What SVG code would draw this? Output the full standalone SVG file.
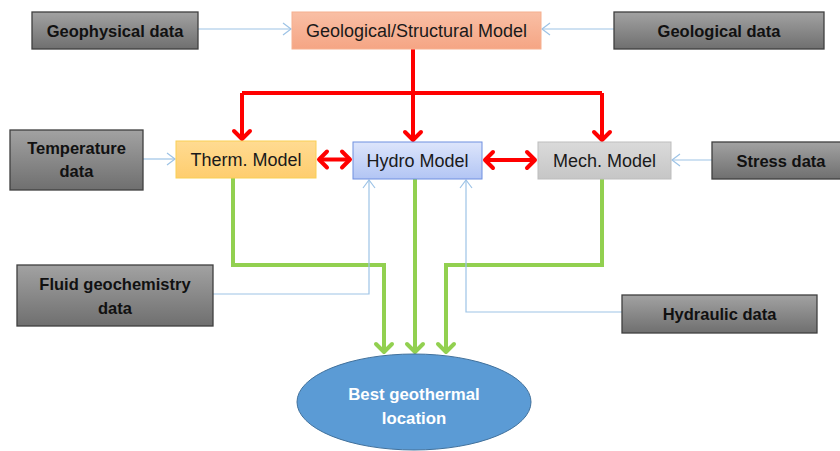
<svg xmlns="http://www.w3.org/2000/svg" width="840" height="451" viewBox="0 0 840 451">
<defs>
<linearGradient id="gGray" x1="0" y1="0" x2="0" y2="1"><stop offset="0" stop-color="#a2a2a2"/><stop offset="1" stop-color="#6f6f6f"/></linearGradient>
<linearGradient id="gGeo" x1="0" y1="0" x2="0" y2="1"><stop offset="0" stop-color="#f9bfa5"/><stop offset="1" stop-color="#f5a584"/></linearGradient>
<linearGradient id="gTherm" x1="0" y1="0" x2="0" y2="1"><stop offset="0" stop-color="#ffdb92"/><stop offset="1" stop-color="#fecd6e"/></linearGradient>
<linearGradient id="gHydro" x1="0" y1="0" x2="0" y2="1"><stop offset="0" stop-color="#dde5fb"/><stop offset="1" stop-color="#b2c5f4"/></linearGradient>
<linearGradient id="gMech" x1="0" y1="0" x2="0" y2="1"><stop offset="0" stop-color="#dadada"/><stop offset="1" stop-color="#c6c6c6"/></linearGradient>
<marker id="mRed" markerUnits="userSpaceOnUse" viewBox="-12 -10 16 20" refX="0" refY="0" markerWidth="16" markerHeight="20" orient="auto-start-reverse" overflow="visible">
<path d="M-8,-8 L0,0 L-8,8" fill="none" stroke="#ff0000" stroke-width="4" stroke-linecap="round" stroke-linejoin="round"/>
</marker>
<marker id="mGreen" markerUnits="userSpaceOnUse" viewBox="-12 -10 16 20" refX="0" refY="0" markerWidth="16" markerHeight="20" orient="auto" overflow="visible">
<path d="M-8,-8 L0,0 L-8,8" fill="none" stroke="#92d050" stroke-width="4" stroke-linecap="round" stroke-linejoin="round"/>
</marker>
<marker id="mBlue" markerUnits="userSpaceOnUse" viewBox="-10 -6 12 12" refX="0" refY="0" markerWidth="12" markerHeight="12" orient="auto" overflow="visible">
<path d="M-8,-6 L0,0 L-8,6" fill="none" stroke="#9dc3e6" stroke-width="1.2"/>
</marker>
</defs>
<style>
.data rect{fill:url(#gGray);stroke:#3f3f3f;stroke-width:1.3}
.data text{font-family:"Liberation Sans",Arial,sans-serif;font-weight:bold;font-size:16.5px;fill:#111;text-anchor:middle}
.model text{font-family:"Liberation Sans",Arial,sans-serif;font-size:18px;fill:#1a1a1a;text-anchor:middle}
.best text{font-family:"Liberation Sans",Arial,sans-serif;font-weight:bold;font-size:16.8px;fill:#ffffff;text-anchor:middle}
.red{fill:none;stroke:#ff0000;stroke-width:4}
.green{fill:none;stroke:#92d050;stroke-width:4;marker-end:url(#mGreen)}
.blue{fill:none;stroke:#9dc3e6;stroke-width:1.2;marker-end:url(#mBlue)}
</style>
<rect width="840" height="451" fill="#ffffff"/>
<g id="connectors">
<path class="red" d="M413,49 V93 M242,93 H602"/>
<path class="red" d="M242,93 V139" marker-end="url(#mRed)"/>
<path class="red" d="M413,93 V140" marker-end="url(#mRed)"/>
<path class="red" d="M602,93 V140" marker-end="url(#mRed)"/>
<path class="red" d="M319,159.5 H350" marker-start="url(#mRed)" marker-end="url(#mRed)"/>
<path class="red" d="M485,160 H535" marker-start="url(#mRed)" marker-end="url(#mRed)"/>
<path class="green" d="M233,178 V265 H384 V352"/>
<path class="green" d="M415,179 V352"/>
<path class="green" d="M602,179 V265 H446 V352"/>
<path class="blue" d="M198,29 H291"/>
<path class="blue" d="M614,29 H542"/>
<path class="blue" d="M143,159 H175"/>
<path class="blue" d="M712,160 H672"/>
<path class="blue" d="M213,294 H369 V180"/>
<path class="blue" d="M622,312 H466 V180"/>
</g>
<g id="geophysical" class="data"><rect x="32" y="12" width="166" height="37"/><text x="115" y="36.5">Geophysical data</text></g>
<g id="geological-data" class="data"><rect x="614" y="12" width="210" height="37"/><text x="719" y="36.5">Geological data</text></g>
<g id="temperature" class="data"><rect x="10" y="130" width="133" height="60"/><text x="76.5" y="153.5">Temperature</text><text x="76.5" y="177">data</text></g>
<g id="stress" class="data"><rect x="712" y="142" width="130" height="37"/><text x="781" y="166.5">Stress data</text></g>
<g id="fluid" class="data"><rect x="17" y="265" width="196" height="61"/><text x="115" y="290">Fluid geochemistry</text><text x="115" y="313.5">data</text></g>
<g id="hydraulic" class="data"><rect x="622" y="295" width="195" height="38"/><text x="719.5" y="319.5">Hydraulic data</text></g>
<g id="geo-model" class="model"><rect x="292" y="12" width="249" height="37" fill="url(#gGeo)" stroke="#f6b08f" stroke-width="1"/><text x="416.5" y="37">Geological/Structural Model</text></g>
<g id="therm-model" class="model"><rect x="176" y="141" width="140" height="37" fill="url(#gTherm)" stroke="#f9cf55" stroke-width="1"/><text x="246" y="166">Therm. Model</text></g>
<g id="hydro-model" class="model"><rect x="353" y="142" width="129" height="37" fill="url(#gHydro)" stroke="#6f8fe0" stroke-width="1"/><text x="417.5" y="167">Hydro Model</text></g>
<g id="mech-model" class="model"><rect x="538" y="142" width="133" height="37" fill="url(#gMech)" stroke="#bdbdbd" stroke-width="1"/><text x="604.5" y="167">Mech. Model</text></g>
<g id="best-location" class="best"><ellipse cx="414" cy="402" rx="117" ry="48" fill="#5b9bd5" stroke="#41719c" stroke-width="1"/>
<text x="414" y="400">Best geothermal</text>
<text x="414" y="423.5">location</text></g>
</svg>
